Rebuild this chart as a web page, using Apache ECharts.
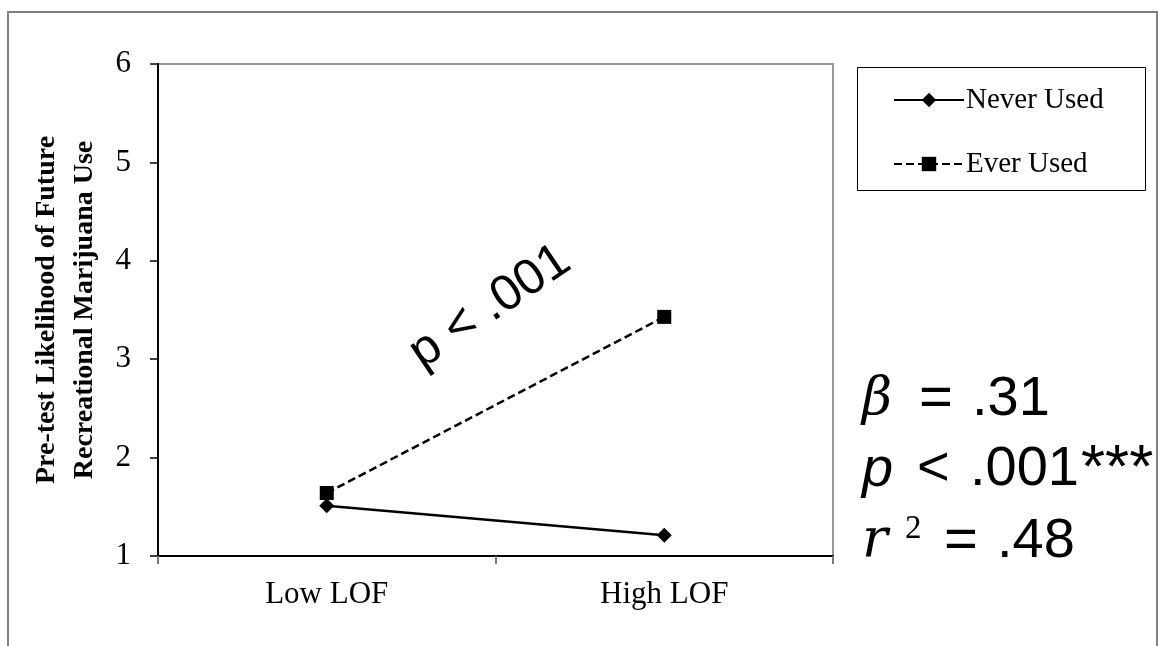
<!DOCTYPE html>
<html>
<head>
<meta charset="utf-8">
<script src="https://cdn.jsdelivr.net/npm/echarts@6/dist/echarts.min.js"></script>
<style>
html,body{margin:0;padding:0;background:#fff;}
#c{width:1161px;height:646px;}
</style>
</head>
<body>
<div id="c"></div>
<script>
const categories = ['Low LOF', 'High LOF'];
const neverUsed = [1.51, 1.21];
const everUsed = [1.64, 3.43];
const seriesNames = ['Never Used', 'Ever Used'];
const yMin = 1, yMax = 6, yInterval = 1;
const yAxisTitle = 'Pre-test Likelihood of Future\nRecreational Marijuana Use';
const slopeLabel = 'p < .001';
const statLines = ['{b|β}{e|=}{n|.31}', '{p|p}{l|<}{n|.001}{a|***}', '{r|r}{s|2}{e|=}{n|.48}'];

const chart = echarts.init(document.getElementById('c'));
const serif = 'Liberation Serif';
const sans = 'Liberation Sans';
chart.setOption({
  animation: false,
  backgroundColor: '#fff',
  grid: {
    left: 158, top: 64, right: 328, bottom: 90,
    outerBoundsMode: 'none', containLabel: false,
    show: true, borderColor: '#999', borderWidth: 2, backgroundColor: 'transparent'
  },
  legend: {
    orient: 'vertical',
    left: 888, top: 78,
    itemWidth: 70, itemHeight: 18, itemGap: 30,
    textStyle: { fontFamily: serif, fontSize: 29, color: '#000', lineHeight: 34, padding: [0, 0, 0, -3] },
    data: seriesNames
  },
  xAxis: {
    type: 'category',
    data: categories,
    boundaryGap: true,
    axisLine: { lineStyle: { color: '#000', width: 2 } },
    axisTick: { show: true, length: 8, lineStyle: { color: '#777', width: 2 } },
    axisLabel: { fontFamily: serif, fontSize: 31, color: '#000', margin: 23 },
    splitLine: { show: false }
  },
  yAxis: {
    type: 'value',
    min: yMin, max: yMax, interval: yInterval,
    name: yAxisTitle,
    nameLocation: 'middle',
    nameGap: 54,
    nameRotate: 90,
    nameTextStyle: { fontFamily: serif, fontSize: 28, fontWeight: 'bold', color: '#000', lineHeight: 38 },
    axisLine: { show: true, lineStyle: { color: '#000', width: 2 } },
    axisTick: { show: true, length: 8, lineStyle: { color: '#000', width: 1.5 } },
    axisLabel: { fontFamily: serif, fontSize: 31, color: '#000', margin: 27 },
    splitLine: { show: false }
  },
  series: [
    {
      name: seriesNames[0], type: 'line', data: neverUsed,
      symbol: 'diamond', symbolSize: 15,
      lineStyle: { color: '#000', width: 2.5, type: 'solid' },
      itemStyle: { color: '#000' }
    },
    {
      name: seriesNames[1], type: 'line', data: everUsed,
      symbol: 'rect', symbolSize: 14,
      lineStyle: { color: '#000', width: 2.5, type: [8, 4] },
      itemStyle: { color: '#000' }
    }
  ],
  graphic: [
    {
      type: 'rect', silent: true, z: -10,
      shape: { x: 8, y: 12, width: 1149, height: 700 },
      style: { fill: 'none', stroke: '#808080', lineWidth: 2 }
    },
    {
      type: 'rect', silent: true,
      shape: { x: 857.5, y: 67.5, width: 288, height: 123 },
      style: { fill: 'none', stroke: '#000', lineWidth: 1 }
    },
    {
      type: 'text', silent: true,
      x: 490, y: 307, rotation: 34 * Math.PI / 180,
      style: { text: slopeLabel, x: 0, y: 0, align: 'center', verticalAlign: 'middle',
        font: '50px "Liberation Sans"', fill: '#000' }
    },
    ...statLines.map((t, i) => ({
      type: 'text', silent: true,
      x: 862, y: [400, 470, 542][i],
      style: {
        text: t, x: 0, y: 0, align: 'left', verticalAlign: 'middle', fill: '#000',
        rich: {
          b: { fontFamily: 'DejaVu Serif', fontStyle: 'italic', fontSize: 52, fill: '#000', width: 57 },
          p: { fontFamily: sans, fontStyle: 'italic', fontSize: 56, fill: '#000', width: 55 },
          l: { fontFamily: sans, fontSize: 56, fill: '#000', width: 53 },
          r: { fontFamily: 'DejaVu Serif', fontStyle: 'italic', fontSize: 54, fill: '#000', width: 43 },
          s: { fontFamily: serif, fontSize: 33, fill: '#000', verticalAlign: 'top', padding: [0, 0, 22, 0], width: 39 },
          e: { fontFamily: sans, fontSize: 58, fill: '#000', width: 53 },
          n: { fontFamily: sans, fontSize: 56, fill: '#000' },
          a: { fontFamily: sans, fontSize: 62, fill: '#000', padding: [0, 0, 0, 2] }
        }
      }
    }))
  ]
});
</script>
</body>
</html>
